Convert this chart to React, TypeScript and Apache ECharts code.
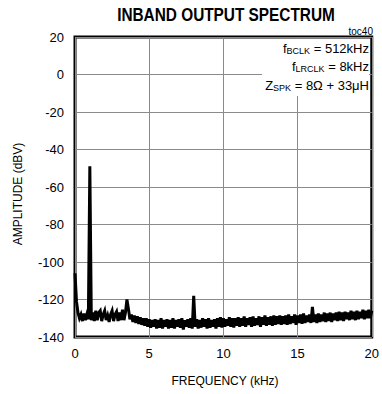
import React, { useEffect, useRef } from "react";
import * as echarts from "echarts";

// ---- data ----
const chartTitle = "INBAND OUTPUT SPECTRUM";
const xAxisName = "FREQUENCY (kHz)";
const yAxisName = "AMPLITUDE (dBV)";
const xMin = 0;
const xMax = 20;
const xInterval = 5;
const yMin = -140;
const yMax = 20;
const yInterval = 20;
const freqStepKHz = 0.1; // sample spacing of the amplitude trace
// amplitude (dBV), one value every 0.1 kHz from 0 to 20 kHz
const amplitudeDbv = [
  -106, -121, -127, -130, -128, -131.5, -127.5, -131, -128, -130.5,
  -49, -131, -127, -131.5, -126, -131, -127, -126, -131.5, -128,
  -126, -131, -128.5, -132, -128, -126, -131.5, -128, -126.5, -131.5,
  -127, -131, -125.5, -131, -127, -120, -125, -130.5, -128, -132,
  -128.5, -132.5, -129, -133, -129.5, -133.5, -130, -134, -130, -134.5,
  -130.5, -135, -131, -134.5, -130.5, -135.5, -131, -135, -130, -135.5,
  -131, -134.5, -130.5, -135.5, -131, -135, -130, -135.5, -131, -134.5,
  -130.5, -135, -130, -136, -131, -134.5, -130.5, -135, -130, -135.5,
  -118, -134.5, -130.5, -135.5, -131, -135, -130, -134.5, -130.5, -135.5,
  -130, -135, -131, -134.5, -130.5, -135.5, -130, -134.5, -129.5, -135,
  -130, -134.5, -130.5, -134, -129.5, -134.5, -130, -135, -130, -134,
  -129.5, -134.5, -130, -134, -129, -134.5, -130, -133.5, -129.5, -134.5,
  -129, -134, -130, -133.5, -129, -134.5, -129.5, -133.5, -128.5, -134,
  -129.5, -133.5, -129, -134, -128.5, -133.5, -129, -133, -128.5, -133.5,
  -129, -133, -128.5, -133.5, -128, -133, -129, -132.5, -128, -133.5,
  -128.5, -132.5, -128, -133, -127.5, -132.5, -128.5, -132, -128, -132.5,
  -124, -132, -128, -132.5, -127.5, -132, -128, -131.5, -127, -132,
  -127.5, -131.5, -127, -132, -127.5, -131, -127, -131.5, -126.5, -131,
  -127, -131.5, -126.5, -130.5, -127, -131, -126, -130.5, -126.5, -131,
  -126, -130.5, -126.5, -130, -125.5, -130.5, -126, -130, -125.5, -130,
  -126,
];
const tocLabel = "toc40";
const conditionLines = [
  "{n|f}{s|BCLK}{n| = 512kHz}",
  "{n|f}{s|LRCLK}{n| = 8kHz}",
  "{n|Z}{s|SPK}{n| = 8Ω + 33μH}",
];

const FONT = "'Liberation Sans', Arial, sans-serif";

export default function App() {
  const ref = useRef<HTMLDivElement>(null);
  useEffect(() => {
    if (!ref.current) return;
    const chart = echarts.init(ref.current, null, { renderer: "svg" });
    const gridLeft = 75;
    const gridTop = 37;
    const gridW = 298;
    const gridH = 300;
    const seriesData = amplitudeDbv.map((v, i) => [Number((i * freqStepKHz).toFixed(1)), v]);
    const richStyle = {
      n: { fontSize: 13, fontFamily: FONT, color: "#000", lineHeight: 16, verticalAlign: "bottom" },
      s: { fontSize: 9, fontFamily: FONT, color: "#000", lineHeight: 9, verticalAlign: "bottom" },
    };
    chart.setOption({
      animation: false,
      backgroundColor: "#fff",
      grid: {
        left: gridLeft,
        top: gridTop,
        width: gridW,
        height: gridH,
        show: true,
        borderColor: "#000",
        borderWidth: 3,
        backgroundColor: "transparent",
      },
      xAxis: {
        type: "value",
        min: xMin,
        max: xMax,
        interval: xInterval,
        axisLine: { show: false },
        axisTick: { show: false },
        splitLine: { show: true, lineStyle: { color: "#8a8a8a", width: 1 } },
        axisLabel: { color: "#000", fontSize: 13, fontFamily: FONT, margin: 10 },
      },
      yAxis: {
        type: "value",
        min: yMin,
        max: yMax,
        interval: yInterval,
        axisLine: { show: false },
        axisTick: { show: false },
        splitLine: { show: true, lineStyle: { color: "#8a8a8a", width: 1 } },
        axisLabel: { color: "#000", fontSize: 13, fontFamily: FONT, margin: 11, padding: [6, 0, 0, 0] },
      },
      series: [
        {
          type: "line",
          data: seriesData,
          showSymbol: false,
          symbol: "none",
          clip: true,
          z: 3,
          lineStyle: { color: "#000", width: 3, join: "miter" },
        },
      ],
      graphic: [
        {
          type: "text",
          x: gridLeft + gridW / 2 + 2,
          y: 5,
          scaleX: 0.81,
          z: 10,
          style: {
            text: chartTitle,
            fill: "#000",
            font: `bold 19px ${FONT}`,
            textAlign: "center",
            textVerticalAlign: "top",
          },
        },
        {
          type: "text",
          x: 373,
          y: 31,
          z: 10,
          style: {
            text: tocLabel,
            fill: "#000",
            font: `10px ${FONT}`,
            textAlign: "right",
            textVerticalAlign: "middle",
          },
        },
        {
          type: "rect",
          z: 8,
          shape: { x: 262, y: 39, width: 107, height: 57 },
          style: { fill: "#fff" },
        },
        ...conditionLines.map((t, i) => ({
          type: "text",
          x: 369,
          y: [47, 65, 84][i],
          z: 10,
          style: {
            text: t,
            rich: richStyle,
            textAlign: "right",
            textVerticalAlign: "middle",
          },
        })),
        {
          type: "text",
          x: 18,
          y: 194,
          rotation: Math.PI / 2,
          z: 10,
          style: {
            text: yAxisName,
            fill: "#000",
            font: `12px ${FONT}`,
            textAlign: "center",
            textVerticalAlign: "middle",
          },
        },
        {
          type: "text",
          x: 225,
          y: 381,
          z: 10,
          style: {
            text: xAxisName,
            fill: "#000",
            font: `12px ${FONT}`,
            textAlign: "center",
            textVerticalAlign: "middle",
          },
        },
      ],
    });
    return () => chart.dispose();
  }, []);
  return <div ref={ref} style={{ width: 382, height: 394, position: "absolute", left: 0, top: 0 }} />;
}
